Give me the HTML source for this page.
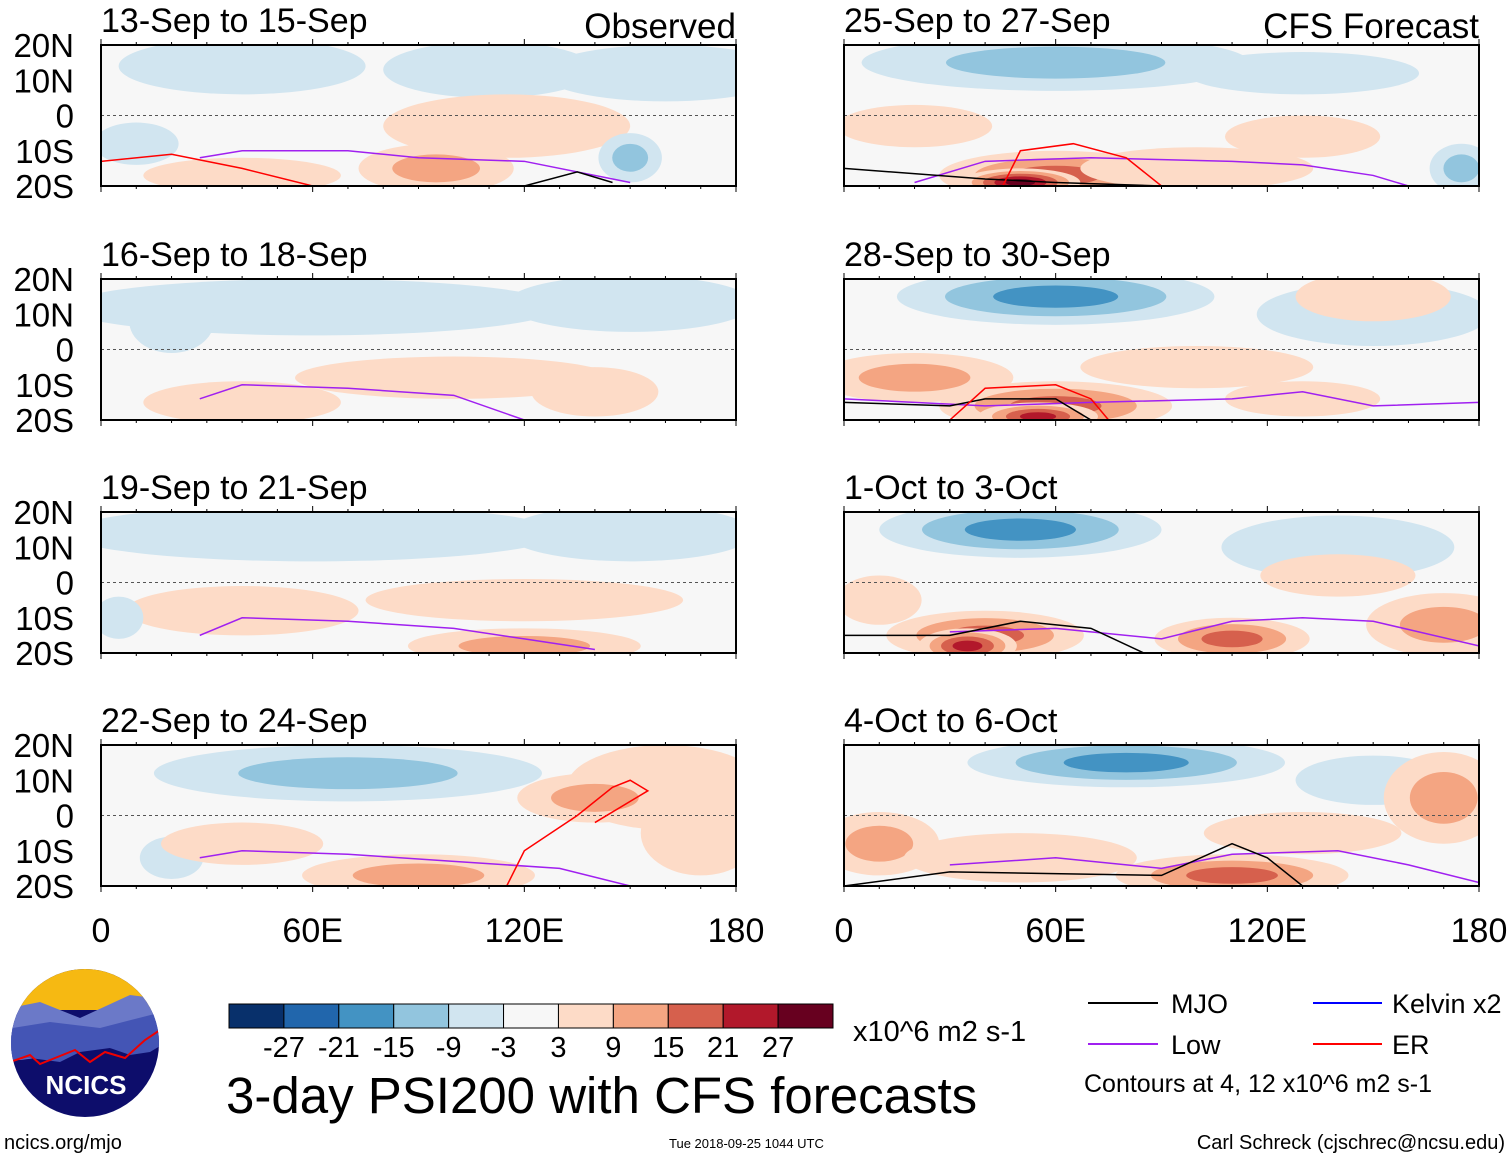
<!DOCTYPE html>
<html><head><meta charset="utf-8"><style>
body{margin:0;background:#fff;width:1510px;height:1159px;overflow:hidden;font-family:"Liberation Sans",sans-serif}
svg text{font-family:"Liberation Sans",sans-serif}
</style></head><body>
<svg id="chart" width="1510" height="1159" xmlns="http://www.w3.org/2000/svg"></svg>
<script>
// ---- data ----
const levels = [-27,-21,-15,-9,-3,3,9,15,21,27];
const colors = ["#08306b","#2166ac","#4393c3","#92c5de","#d1e5f0","#f7f7f7","#fddbc7","#f4a582","#d6604d","#b2182b","#67001f"];
const titles = ["13-Sep to 15-Sep","16-Sep to 18-Sep","19-Sep to 21-Sep","22-Sep to 24-Sep","25-Sep to 27-Sep","28-Sep to 30-Sep","1-Oct to 3-Oct","4-Oct to 6-Oct"];
const latTicks = ["20N","10N","0","10S","20S"];
const lonTicks = ["0","60E","120E","180"];
// anomaly blobs: [lon, lat, rxDeg, ryDeg, value]
const blobs0 = [[40,14,35,8,-5],[110,13,30,8,-5],[160,12,35,8,-5],[10,-8,12,6,-5],[115,-3,35,9,5],[95,-15,22,7,9],[40,-17,28,5,5],[150,-12,9,7,-9]];
const blobs1 = [[60,12,70,8,-5],[150,13,35,8,-5],[100,-8,45,6,5],[40,-15,28,6,5],[140,-12,18,7,5],[20,8,12,9,-5]];
const blobs2 = [[60,14,70,8,-5],[150,14,35,8,-5],[120,-5,45,6,5],[40,-8,33,7,5],[120,-18,33,5,9],[5,-10,7,6,-5]];
const blobs3 = [[70,12,55,8,-9],[160,8,28,12,5],[140,5,22,7,9],[90,-17,33,6,9],[20,-12,9,6,-5],[40,-8,23,6,5],[170,-5,17,12,5]];
const blobs4 = [[60,15,55,8,-9],[130,12,33,6,-5],[60,-17,33,7,15],[50,-19,17,4,27],[100,-15,33,6,5],[20,-3,22,6,5],[130,-6,22,6,5],[175,-15,9,7,-9]];
const blobs5 = [[60,15,45,8,-15],[150,10,33,9,-5],[60,-16,33,7,15],[55,-19,17,4,21],[20,-8,28,7,9],[100,-5,33,6,5],[150,15,22,7,5],[130,-14,22,5,5]];
const blobs6 = [[50,15,40,8,-15],[140,10,33,9,-3],[40,-15,28,7,15],[35,-18,14,5,21],[110,-16,22,6,15],[170,-12,22,9,9],[140,2,22,6,5],[10,-5,12,7,5]];
const blobs7 = [[80,15,45,7,-15],[150,10,22,7,-3],[170,5,17,13,9],[110,-17,33,6,15],[10,-8,17,9,9],[50,-12,33,7,5],[130,-5,28,6,5]];
const allBlobs = [blobs0,blobs1,blobs2,blobs3,blobs4,blobs5,blobs6,blobs7];
// Low (purple) contour lines [lon,lat]
const low0 = [[28,-12],[40,-10],[70,-10],[90,-12],[120,-13],[150,-19]];
const low1 = [[28,-14],[40,-10],[70,-11],[100,-13],[120,-20]];
const low2 = [[28,-15],[40,-10],[70,-11],[100,-13],[120,-16],[140,-19]];
const low3 = [[28,-12],[40,-10],[70,-11],[100,-13],[130,-15],[150,-20]];
const low4 = [[20,-19],[40,-13],[70,-12],[110,-13],[130,-14],[150,-17],[160,-20]];
const low5 = [[0,-14],[40,-16],[70,-15],[110,-14],[130,-12],[150,-16],[180,-15]];
const low6 = [[30,-14],[60,-13],[90,-16],[110,-11],[130,-10],[150,-11],[180,-18]];
const low7 = [[30,-14],[60,-12],[90,-15],[110,-11],[140,-10],[160,-14],[180,-19]];
const allLow = [low0,low1,low2,low3,low4,low5,low6,low7];
// MJO (black) contour lines
const mjo0 = [[120,-20],[135,-16],[145,-19]];
const mjo4 = [[0,-15],[40,-18],[60,-19],[90,-20]];
const mjo5 = [[0,-15],[30,-16],[40,-14],[60,-14],[70,-20]];
const mjo6 = [[0,-15],[30,-15],[50,-11],[70,-13],[85,-20]];
const mjo7 = [[0,-20],[30,-16],[90,-17],[110,-8],[120,-12],[130,-20]];
const allMjo = [mjo0,[],[],[],mjo4,mjo5,mjo6,mjo7];
// ER (red) contour lines
const er0 = [[0,-13],[20,-11],[40,-15],[60,-20]];
const er3 = [[115,-20],[120,-10],[135,0],[145,8],[150,10],[155,7],[140,-2]];
const er4 = [[45,-20],[50,-10],[65,-8],[80,-12],[90,-20]];
const er5 = [[30,-20],[40,-11],[60,-10],[70,-14],[75,-20]];
const allEr = [er0,[],[],er3,er4,er5,[],[]];
// ---- layout ----
const NS="http://www.w3.org/2000/svg", svg=document.getElementById('chart');
const panelX=[101,844], panelY=[45,279,512,745], PW=635, PH=141;
function mk(t,a,p){const e=document.createElementNS(NS,t);for(const k in a)e.setAttribute(k,a[k]);(p||svg).appendChild(e);return e;}
function colorFor(v){let i=0;while(i<levels.length&&v>levels[i])i++;return colors[i];}
const defs=mk('defs',{});
for(let p=0;p<8;p++){
  const col=p<4?0:1,row=p%4,x0=panelX[col],y0=panelY[row];
  const xs=lon=>x0+lon/180*PW, ys=lat=>y0+(20-lat)/40*PH;
  const cp=mk('clipPath',{id:'c'+p},defs);mk('rect',{x:x0,y:y0,width:PW,height:PH},cp);
  const g=mk('g',{'clip-path':'url(#c'+p+')'});
  
  
  mk('rect',{x:x0,y:y0,width:PW,height:PH,fill:'#f7f7f7'},g);
  allBlobs[p].forEach(b=>{
    const v=b[4],steps=levels.filter(l=>v>0?(l>0&&l<v+3):(l<0&&l>v-3));
    const ordered=v>0?steps:steps.slice().reverse();
    ordered.forEach((l,i)=>{
      const f=1-i/(ordered.length+0.3);
      const e=mk('ellipse',{cx:xs(b[0]),cy:ys(b[1]),rx:b[2]/180*PW*f,ry:b[3]/40*PH*f,fill:colorFor(v>0?l+1:l-1)},g);
      
      
    });
  });
  mk('line',{x1:x0,x2:x0+PW,y1:ys(0),y2:ys(0),stroke:'#555','stroke-dasharray':'3,3','stroke-width':1},g);
  const line=(pts,c)=>{if(!pts.length)return;const l=mk('polyline',{points:pts.map(q=>xs(q[0])+','+ys(q[1])).join(' '),fill:'none',stroke:c,'stroke-width':1.5},g);
    
    };
  line(allLow[p],'#a020f0');line(allMjo[p],'#000');line(allEr[p],'#f00');
  mk('rect',{x:x0,y:y0,width:PW,height:PH,fill:'none',stroke:'#000','stroke-width':2});
  for(let t=0;t<=180;t+=10){const h=(t%60==0)?6:3;mk('line',{x1:xs(t),x2:xs(t),y1:y0,y2:y0-h,stroke:'#000'});mk('line',{x1:xs(t),x2:xs(t),y1:y0+PH,y2:y0+PH+h,stroke:'#000'});}
  const tt=mk('text',{x:x0,y:y0-13,'font-size':34},svg);tt.textContent=titles[p];
  
  
  if(col==0) latTicks.forEach((s,i)=>{const t=mk('text',{x:x0-27,y:y0+i*PH/4+12,'font-size':33,'text-anchor':'end'});t.textContent=s;
    
    });
  if(row==3) lonTicks.forEach((s,i)=>{const t=mk('text',{x:xs(i*60),y:942,'font-size':34,'text-anchor':'middle'});t.textContent=s;
    
    });
}
// headers
[["Observed",736],["CFS Forecast",1479]].forEach(h=>{const t=mk('text',{x:h[1],y:38,'font-size':35,'text-anchor':'end'});t.textContent=h[0];
  
  });
// colorbar
const cbx=229,cbw=604/11;
colors.forEach((c,i)=>{const r=mk('rect',{x:cbx+i*cbw,y:1004,width:cbw,height:24,fill:c,stroke:'#000','stroke-width':1});
  
  });
levels.forEach((l,i)=>{const t=mk('text',{x:cbx+(i+1)*cbw,y:1057,'font-size':29,'text-anchor':'middle'});t.textContent=l;
  
  });
</script>
<svg style="position:absolute;left:0;top:0" width="1510" height="1159" xmlns="http://www.w3.org/2000/svg">
<text x="853" y="1041" font-size="29">x10^6 m2 s-1</text>
<text x="226" y="1113" font-size="51">3-day PSI200 with CFS forecasts</text>
<g>
<line x1="1088" x2="1158" y1="1003" y2="1003" stroke="#000" stroke-width="2"/><text x="1171" y="1013" font-size="27">MJO</text>
<line x1="1313" x2="1382" y1="1003" y2="1003" stroke="#00f" stroke-width="2"/><text x="1392" y="1013" font-size="27">Kelvin x2</text>
<line x1="1088" x2="1158" y1="1044" y2="1044" stroke="#a020f0" stroke-width="2"/><text x="1171" y="1054" font-size="27">Low</text>
<line x1="1313" x2="1382" y1="1044" y2="1044" stroke="#f00" stroke-width="2"/><text x="1392" y="1054" font-size="27">ER</text>
<text x="1084" y="1092" font-size="25">Contours at 4, 12 x10^6 m2 s-1</text>
</g>
<g>
<clipPath id="lg"><ellipse cx="85" cy="1043" rx="74" ry="74"/></clipPath>
<g clip-path="url(#lg)">
<rect x="0" y="965" width="170" height="160" fill="#0d0d6b"/>
<rect x="0" y="965" width="170" height="45" fill="#f6b912"/>
<path d="M0 1010 L40 1002 L80 1018 L130 995 L170 1000 L170 1030 L120 1050 L95 1045 L60 1055 L20 1060 L0 1058Z" fill="#6b79c8"/>
<path d="M0 1030 L50 1022 L100 1028 L170 1010 L170 1040 L150 1052 L130 1055 L110 1048 L80 1052 L60 1062 L30 1058 L0 1062Z" fill="#4455b5"/>
<path d="M10 1062 L30 1055 L40 1064 L55 1058 L75 1050 L90 1062 L105 1052 L125 1058 L145 1040 L160 1030" stroke="#e00" stroke-width="2" fill="none"/>
</g>
<text x="86" y="1094" font-size="26" font-weight="bold" fill="#fff" text-anchor="middle">NCICS</text>
</g>
<text x="4" y="1149" font-size="20">ncics.org/mjo</text>
<text x="669" y="1148" font-size="13">Tue 2018-09-25 1044 UTC</text>
<text x="1505" y="1149" font-size="20" text-anchor="end">Carl Schreck (cjschrec@ncsu.edu)</text>
</svg>
</body></html>
